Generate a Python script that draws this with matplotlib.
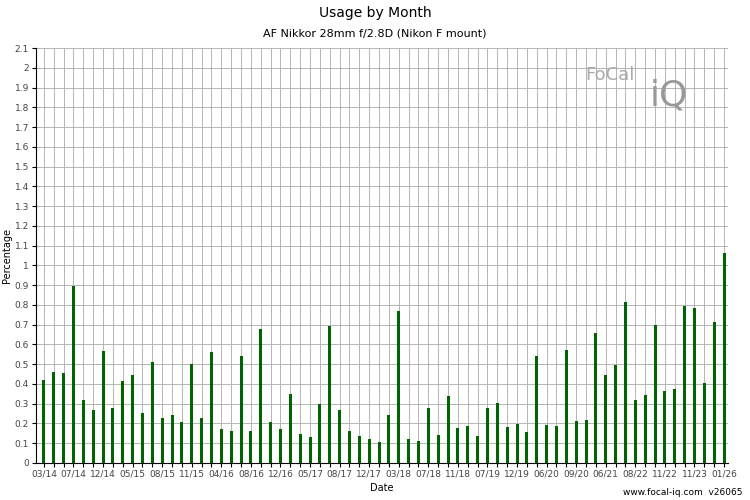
import matplotlib
matplotlib.use("Agg")
import matplotlib.pyplot as plt
import numpy as np

values = [.42,.46,.455,.895,.32,.27,.565,.28,.415,.445,
          .255,.51,.23,.245,.21,.5,.23,.56,.17,.16,
          .54,.16,.68,.205,.17,.35,.145,.13,.3,.695,
          .27,.16,.135,.12,.105,.245,.77,.12,.11,.28,
          .14,.34,.175,.185,.135,.28,.305,.18,.195,.155,
          .54,.19,.185,.57,.215,.22,.66,.445,.495,.815,
          .32,.345,.7,.365,.375,.795,.785,.405,.715,1.065]
tick_labels = ["03/14","07/14","12/14","05/15","08/15","11/15","04/16","08/16",
               "12/16","05/17","08/17","12/17","03/18","07/18","11/18","07/19",
               "12/19","06/20","09/20","06/21","08/22","11/22","11/23","01/26"]

fig = plt.figure(figsize=(7.5, 5), dpi=100)
ax = fig.add_axes([36/750, 37/500, 692/750, 415/500])
x = np.arange(len(values))
ax.bar(x, values, width=0.3, color="#006400", zorder=3)
ax.set_xlim(-0.8, len(values) - 0.6)
ax.set_ylim(0, 2.1)
yt = np.round(np.arange(0, 2.11, 0.1), 1)
ax.set_yticks(yt)
ax.set_yticklabels([f"{v:g}" for v in yt], fontsize=6.5, color="#444")
ax.set_xticks(x, minor=True)
ax.set_xticks(x[::3])
ax.set_xticklabels(tick_labels, fontsize=6.5, color="#444")
ax.grid(True, which="both", color="#aaaaaa", linewidth=0.6, zorder=0)
ax.tick_params(which="both", length=3, width=0.8, pad=2)
for s in ["top", "right"]:
    ax.spines[s].set_visible(False)
ax.set_xlabel("Date", fontsize=7, labelpad=3)
ax.set_ylabel("Percentage", fontsize=7, labelpad=2)
fig.text(0.5, 0.965, "Usage by Month", ha="center", fontsize=10)
fig.text(0.5, 0.928, "AF Nikkor 28mm f/2.8D (Nikon F mount)", ha="center", fontsize=8)
fig.text(0.99, 0.01, "www.focal-iq.com  v26065", ha="right", fontsize=6.5)
fig.text(585/750, 1 - 80/500, "FoCal", fontsize=13, color="#aaaaaa")
fig.text(650/750, 1 - 105/500, "iQ", fontsize=26, color="#999999")
fig.savefig("out.png", dpi=100)
